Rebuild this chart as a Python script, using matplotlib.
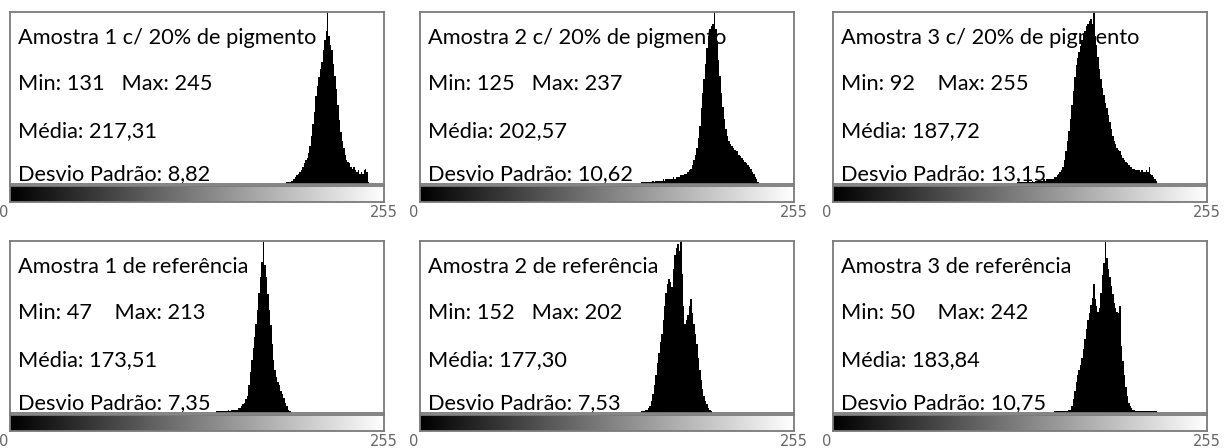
import matplotlib.pyplot as plt
import numpy as np

# amostras com 20% de pigmento (linha de cima) e de referência (linha de baixo)
titulos = ["Amostra 1 c/ 20% de pigmento", "Amostra 2 c/ 20% de pigmento",
           "Amostra 3 c/ 20% de pigmento", "Amostra 1 de referência",
           "Amostra 2 de referência", "Amostra 3 de referência"]
minimos = [131, 125, 92, 47, 152, 50]
maximos = [245, 237, 255, 213, 202, 242]
medias = [217.31, 202.57, 187.72, 173.51, 177.30, 183.84]
desvios = [8.82, 10.62, 13.15, 7.35, 7.53, 10.75]

# frequências relativas (% do pico) por nível de cinza, a partir do nível inicial
inicio_pig1 = 188
freq_pig1 = [0, 1, 1, 1, 2, 2, 3, 4, 5, 6, 7, 8, 10, 12, 14, 15, 18, 22, 28, 35,
             42, 51, 57, 62, 67, 71, 78, 84, 89, 100, 86, 81, 78, 70, 63, 55, 46, 37,
             30, 25, 21, 17, 14, 13, 12, 10, 9, 10, 8, 7, 8, 6, 7, 6, 8, 9, 7, 1, 0]

inicio_pig2 = 150
freq_pig2 = [0, 1, 1, 1, 1, 1, 1, 1, 1, 2, 1, 2, 2, 2, 2, 2, 3, 2, 3, 3, 3, 3, 3,
             4, 3, 4, 4, 4, 5, 5, 5, 6, 6, 7, 8, 9, 11, 14, 17, 21, 27, 34, 44, 53,
             61, 70, 79, 86, 90, 92, 93, 100, 90, 83, 72, 63, 53, 45, 38, 32, 28, 25,
             23, 22, 21, 20, 19, 19, 17, 16, 15, 14, 13, 12, 11, 10, 9, 7, 6, 4, 3,
             1, 0]

inicio_pig3 = 125
freq_pig3 = [0, 1, 1, 1, 1, 1, 1, 1, 2, 1, 1, 2, 1, 2, 2, 2, 2, 2, 2, 3, 2, 3, 3,
             3, 3, 3, 4, 4, 5, 6, 7, 8, 10, 14, 19, 25, 31, 38, 46, 54, 62, 69, 73,
             77, 80, 84, 87, 89, 92, 93, 95, 96, 93, 100, 86, 81, 74, 67, 61, 56, 52,
             47, 44, 40, 36, 32, 28, 25, 23, 21, 20, 19, 17, 15, 14, 13, 12, 11, 10,
             10, 9, 9, 8, 8, 8, 7, 8, 7, 7, 8, 7, 10, 6, 5, 4, 3, 2, 0]

inicio_ref1 = 140
freq_ref1 = [0, 1, 1, 1, 1, 1, 1, 1, 1, 2, 1, 2, 2, 2, 2, 2, 3, 3, 4, 5, 6, 8, 10,
             16, 24, 31, 38, 44, 52, 60, 70, 79, 88, 100, 86, 79, 69, 60, 51, 40, 31,
             25, 21, 18, 16, 13, 11, 9, 6, 4, 2, 1, 0]

inicio_ref2 = 150
freq_ref2 = [0, 1, 1, 1, 2, 2, 3, 4, 7, 11, 16, 22, 29, 35, 41, 46, 54, 62, 70, 75,
             78, 76, 73, 84, 92, 96, 98, 94, 100, 81, 62, 52, 54, 57, 62, 66, 58, 52,
             46, 40, 32, 25, 19, 14, 10, 7, 5, 3, 2, 1, 0]

inicio_ref3 = 150
freq_ref3 = [0, 1, 1, 1, 1, 1, 1, 1, 1, 1, 1, 2, 2, 4, 8, 13, 18, 22, 25, 28, 32,
             37, 43, 49, 54, 58, 63, 67, 75, 66, 62, 59, 61, 70, 80, 87, 100, 90, 84,
             79, 74, 69, 64, 61, 59, 58, 62, 39, 30, 22, 15, 10, 6, 4, 3, 2, 2, 1, 1,
             1, 1, 1, 1, 1, 1, 1, 1, 1, 1, 1, 1, 1, 0]

inicios = [inicio_pig1, inicio_pig2, inicio_pig3, inicio_ref1, inicio_ref2, inicio_ref3]
freqs = [freq_pig1, freq_pig2, freq_pig3, freq_ref1, freq_ref2, freq_ref3]

W, H = 1224, 448
fig = plt.figure(figsize=(W / 100, H / 100), dpi=100)
fig.patch.set_facecolor("white")

esquerda = [10, 420, 833]
topo = [12, 241]
larg, alt = 374, 172
borda = "#7a7a7a"
fonte = ["Lato", "DejaVu Sans"]
linhas_y = [32, 78, 125, 168]


def eixo_px(x0, y0, w, h):
    return fig.add_axes([x0 / W, 1 - (y0 + h) / H, w / W, h / H])


def fmt(v):
    return f"{v:.2f}".replace(".", ",")


for i in range(6):
    x0 = esquerda[i % 3]
    y0 = topo[i // 3]

    ax = eixo_px(x0, y0, larg, alt)
    niveis = np.arange(inicios[i], inicios[i] + len(freqs[i]))
    ax.bar(niveis, freqs[i], width=1.0, align="edge", color="black",
           linewidth=0, zorder=2)
    ax.set_xlim(0, 256)
    ax.set_ylim(0, 100)
    ax.set_xticks([])
    ax.set_yticks([])
    for s in ax.spines.values():
        s.set_color(borda)
        s.set_linewidth(1.3)

    n = minimos[i]
    espaco = "   " if n >= 100 else "    "
    textos = [titulos[i], f"Min: {n}{espaco}Max: {maximos[i]}",
              f"Média: {fmt(medias[i])}", f"Desvio Padrão: {fmt(desvios[i])}"]
    for t, dy in zip(textos, linhas_y):
        ax.text(8 / larg, 1 - dy / alt, t, transform=ax.transAxes,
                family=fonte, fontsize=15.7, va="baseline", ha="left", zorder=1)

    # barra de gradiente da LUT
    gb = eixo_px(x0, y0 + alt + 2, larg, 16)
    gb.imshow(np.linspace(0, 1, 256)[None, :], cmap="gray", aspect="auto",
              extent=[0, 256, 0, 1], vmin=0, vmax=1)
    gb.set_xticks([])
    gb.set_yticks([])
    for s in gb.spines.values():
        s.set_color(borda)
        s.set_linewidth(1.3)

    yl = y0 + alt + 28
    fig.text((x0 - 6) / W, 1 - yl / H, "0", fontsize=10.5, color="#666666",
             ha="center", va="center")
    fig.text((x0 + larg) / W, 1 - yl / H, "255", fontsize=10.5, color="#666666",
             ha="center", va="center")

fig.savefig("out.png", dpi=100, facecolor="white")
